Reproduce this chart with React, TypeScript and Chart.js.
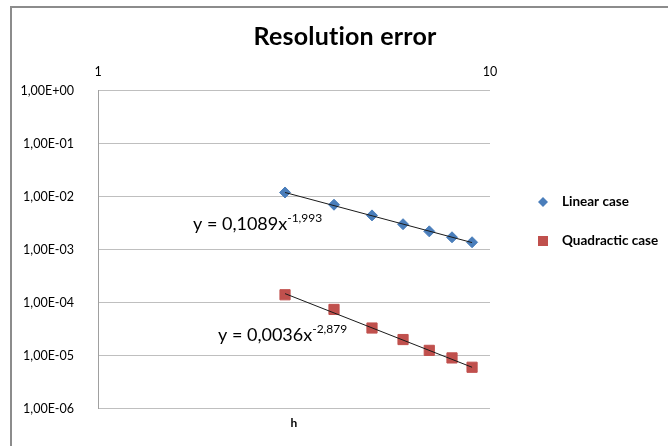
import React, { useEffect, useRef } from 'react';
import { Chart, registerables } from 'chart.js';

Chart.register(...registerables);

// ---- data ----
const hValues = [3, 4, 5, 6, 7, 8, 9];
const linearErr = [0.0119, 0.007, 0.0044, 0.003, 0.0022, 0.0017, 0.00137];
const quadErr = [1.4e-4, 7.4e-5, 3.3e-5, 2.0e-5, 1.25e-5, 9.0e-6, 6.0e-6];
const trendH = [3, 9];
const linearTrend = [0.0119, 0.00135];
const quadTrend = [1.47e-4, 6.0e-6];
const yTickValues = [1, 1e-1, 1e-2, 1e-3, 1e-4, 1e-5, 1e-6];
const yTickLabels = ['1,00E+00', '1,00E-01', '1,00E-02', '1,00E-03', '1,00E-04', '1,00E-05', '1,00E-06'];
const xTickValues = [1, 10];
const xTickLabels = ['1', '10'];
const seriesNames = ['Linear case', 'Quadractic case'];
const linearEquation = ['y = 0,1089x', '-1,993'];
const quadEquation = ['y = 0,0036x', '-2,879'];
const chartTitle = 'Resolution error';
const xAxisTitle = 'h';

const BLUE = '#4a7ebb';
const RED = '#c0504d';
const FONT = 'Lato, "DejaVu Sans", sans-serif';

const decorPlugin = {
  id: 'decor',
  beforeDraw(chart: any) {
    const ctx = chart.ctx;
    ctx.save();
    ctx.fillStyle = '#ffffff';
    ctx.fillRect(0, 0, chart.width, chart.height);
    ctx.restore();
  },
  afterDraw(chart: any) {
    const ctx = chart.ctx;
    ctx.save();
    // outer frame
    ctx.strokeStyle = '#8c8c8c';
    ctx.lineWidth = 2;
    ctx.strokeRect(11, 7, 800, 600);

    // title
    ctx.fillStyle = '#000';
    ctx.textAlign = 'center';
    ctx.textBaseline = 'alphabetic';
    try { (ctx as any).letterSpacing = '0.2px'; } catch (e) {}
    ctx.font = `bold 25px ${FONT}`;
    ctx.fillText(chartTitle, 345, 45);
    try { (ctx as any).letterSpacing = '0px'; } catch (e) {}

    // x axis title
    ctx.font = `bold 12px ${FONT}`;
    ctx.fillText(xAxisTitle, 294, 427);

    // equations
    const drawEq = (eq: string[], x: number, y: number) => {
      ctx.textAlign = 'left';
      ctx.font = `18px ${FONT}`;
      ctx.fillStyle = '#000';
      ctx.fillText(eq[0], x, y);
      const w = ctx.measureText(eq[0]).width;
      ctx.font = `12px ${FONT}`;
      ctx.fillText(eq[1], x + w, y - 8);
    };
    drawEq(linearEquation, 193, 230);
    drawEq(quadEquation, 218, 341);

    // legend
    ctx.textAlign = 'left';
    ctx.textBaseline = 'middle';
    ctx.font = `bold 13.5px ${FONT}`;
    // diamond
    ctx.fillStyle = BLUE;
    ctx.beginPath();
    ctx.moveTo(543, 197);
    ctx.lineTo(548, 202);
    ctx.lineTo(543, 207);
    ctx.lineTo(538, 202);
    ctx.closePath();
    ctx.fill();
    ctx.fillStyle = '#000';
    ctx.fillText(seriesNames[0], 562, 202);
    // square
    ctx.fillStyle = RED;
    ctx.fillRect(538, 236, 10, 10);
    ctx.fillStyle = '#000';
    ctx.fillText(seriesNames[1], 562, 241);
    ctx.restore();
  },
};

export default function App() {
  const ref = useRef<HTMLCanvasElement>(null);
  useEffect(() => {
    if (!ref.current) return;
    const toPts = (xs: number[], ys: number[]) => xs.map((x, i) => ({ x, y: ys[i] }));
    const chart = new Chart(ref.current, {
      type: 'scatter',
      data: {
        datasets: [
          {
            label: seriesNames[0],
            data: toPts(hValues, linearErr),
            pointStyle: 'rectRot',
            pointRadius: 5.5,
            pointBackgroundColor: BLUE,
            pointBorderColor: BLUE,
            pointBorderWidth: 1,
            showLine: false,
            order: 2,
          },
          {
            label: seriesNames[1],
            data: toPts(hValues, quadErr),
            pointStyle: 'rect',
            pointRadius: 7.2,
            pointBackgroundColor: RED,
            pointBorderColor: RED,
            pointBorderWidth: 1,
            showLine: false,
            order: 2,
          },
          {
            label: 'trend1',
            data: toPts(trendH, linearTrend),
            showLine: true,
            pointRadius: 0,
            borderColor: '#1a1a1a',
            borderWidth: 1,
            order: 1,
          },
          {
            label: 'trend2',
            data: toPts(trendH, quadTrend),
            showLine: true,
            pointRadius: 0,
            borderColor: '#1a1a1a',
            borderWidth: 1,
            order: 1,
          },
        ],
      },
      options: {
        animation: false,
        responsive: false,
        devicePixelRatio: 1,
        layout: { padding: { top: 0, left: 0, right: 178, bottom: 37.5 } },
        plugins: {
          legend: { display: false },
          title: { display: false },
          tooltip: { enabled: false },
        },
        scales: {
          x: {
            type: 'logarithmic',
            position: 'top',
            min: 1,
            max: 10,
            afterBuildTicks: (s: any) => {
              s.ticks = xTickValues.map((v) => ({ value: v }));
            },
            afterFit: (s: any) => {
              s.height = 90.5;
            },
            grid: { display: false, drawTicks: false },
            border: { display: false },
            ticks: {
              autoSkip: false,
              maxRotation: 0,
              padding: 11,
              color: '#000',
              font: { family: FONT, size: 12.5 },
              callback: (v: any) => {
                const i = xTickValues.indexOf(Number(v));
                return i >= 0 ? xTickLabels[i] : '';
              },
            },
          },
          y: {
            type: 'logarithmic',
            min: 1e-6,
            max: 1,
            afterBuildTicks: (s: any) => {
              s.ticks = yTickValues.map((v) => ({ value: v }));
            },
            afterFit: (s: any) => {
              s.width = 98;
            },
            grid: { color: '#bfbfbf', drawTicks: false },
            border: { color: '#a0a0a0' },
            ticks: {
              autoSkip: false,
              padding: 24,
              color: '#000',
              font: { family: FONT, size: 12.5 },
              callback: (v: any) => {
                const i = yTickValues.findIndex((t) => Math.abs(Math.log10(t) - Math.log10(Number(v))) < 1e-6);
                return i >= 0 ? yTickLabels[i] : '';
              },
            },
          },
        },
      },
      plugins: [decorPlugin],
    } as any);
    return () => chart.destroy();
  }, []);
  return (
    <div style={{ position: 'absolute', left: 0, top: 0, width: 668, height: 446, background: '#fff' }}>
      <canvas ref={ref} width={668} height={446} style={{ display: 'block' }} />
    </div>
  );
}
